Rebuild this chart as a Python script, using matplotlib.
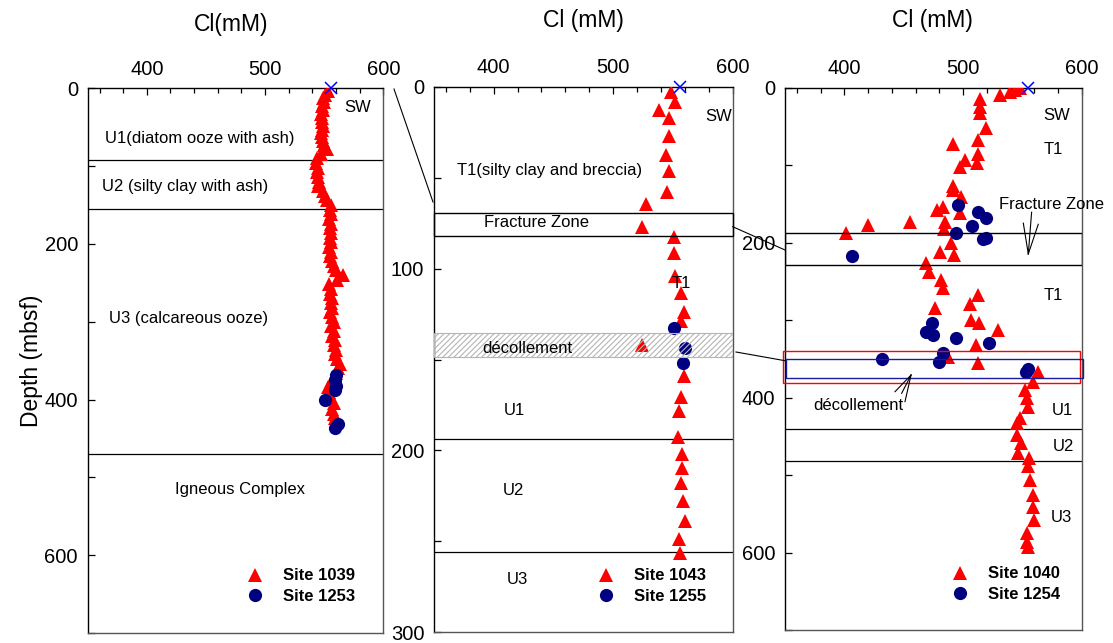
import matplotlib.pyplot as plt
from matplotlib.patches import Rectangle
from matplotlib.lines import Line2D
from matplotlib.ticker import MultipleLocator

plt.rcParams['font.family'] = ['Liberation Sans', 'DejaVu Sans']
plt.rcParams['hatch.linewidth'] = 0.8

# seawater reference value
sw_cl = [556]
sw_depth = [0]

# Site 1039 / 1253 (reference site)
site1039_depth = [4, 9, 13, 18, 23, 28, 33, 38, 43, 48, 53, 58, 63, 68, 73, 78,
                  84, 90, 96, 102, 108, 114, 120, 126, 132, 138, 144, 150, 156,
                  162, 168, 174, 180, 186, 192, 198, 204, 210, 216, 222, 228,
                  234, 240, 246, 252, 258, 264, 270, 276, 282, 288, 294, 300,
                  306, 312, 318, 324, 330, 336, 342, 348, 354, 360, 366, 372,
                  378, 384, 390, 398, 404, 412, 418, 424]
site1039_cl = [553, 551, 549, 550, 548, 549, 547, 548, 548, 549, 548, 547, 548,
               549, 550, 552, 547, 544, 543, 545, 544, 545, 546, 545, 549, 551,
               552, 556, 555, 556, 554, 556, 555, 556, 555, 556, 554, 556, 555,
               557, 558, 560, 566, 561, 554, 556, 555, 557, 556, 557, 555, 557,
               558, 556, 558, 557, 559, 558, 560, 559, 561, 563, 562, 560, 558,
               556, 553, 554, 556, 558, 557, 558, 559]
site1253_depth = [368, 375, 382, 388, 400, 432, 437]
site1253_cl = [560, 559, 560, 559, 551, 562, 559]

# Site 1043 / 1255 (toe of the prism)
site1043_depth = [2.6, 8, 12.7, 17, 27, 37.4, 46, 57.6, 64.6, 76.9, 82.4, 91.5,
                  104, 113.5, 124, 128.8, 142, 159, 170.4, 178.3, 192.4, 202,
                  209.8, 218, 227.8, 238.9, 248.8, 256.6]
site1043_cl = [548.6, 552, 538.7, 546.6, 547, 544, 547, 545, 527.4, 524.6,
               551.4, 551.4, 552, 556.5, 559.3, 557, 524.6, 559.3, 556.5, 555,
               554, 557.6, 557.6, 556.5, 558.5, 559.9, 555, 556]
site1255_depth = [132.8, 143.8, 151.7]
site1255_cl = [550.6, 559.9, 558.5]

# Site 1040 / 1254 (prism)
site1040_depth = [0.5, 2.6, 5.6, 9.9, 15.2, 24.7, 33.3, 52.7, 67.7, 73.3, 86.2,
                  93.5, 97.8, 103, 127, 132, 141, 154, 158, 162.4, 173, 173,
                  177.5, 182, 188, 201, 212, 216, 227, 238, 249, 259, 268, 279,
                  285, 300, 304, 313, 332, 347.3, 355, 366.6, 379.5, 390.3,
                  401, 411.8, 426.8, 433.3, 448.4, 459, 472, 478.5, 489, 506.5,
                  525.8, 541, 558, 575, 586, 592.5]
site1040_cl = [548, 543.8, 539.6, 531.2, 514.3, 514.3, 514.3, 519.3, 512.3,
               491.3, 512.9, 501.7, 511.5, 497.5, 491.9, 491.9, 498.3, 483,
               478, 497.5, 485, 455.6, 419.9, 484, 401.7, 489.5, 481, 492,
               469, 471, 481.6, 483, 512.9, 505.9, 476.6, 506.7, 513.7, 529.7,
               510.8, 487.6, 512.3, 563.4, 559.2, 552.2, 553.6, 555, 548,
               545.2, 545.8, 548.6, 546.6, 555.9, 555, 556.5, 559.2, 558.6,
               559.8, 553.6, 554.2, 555]
site1254_depth = [151.6, 160.2, 168, 178.7, 188, 195.8, 194.5, 217.3, 303.4,
                  315, 319.3, 323.7, 329.3, 343, 350.7, 353.7, 363.6, 366.6]
site1254_cl = [496, 512.9, 519.3, 507.3, 494.1, 516.5, 519.3, 406.3, 473.7,
               469, 474.6, 494.1, 522.2, 483.4, 431.4, 480, 555, 553]

W, H = 1113, 643
fig = plt.figure(figsize=(W / 100, H / 100), dpi=100)


def px_axes(x0, x1, y0, y1):
    return fig.add_axes([x0 / W, 1 - y1 / H, (x1 - x0) / W, (y1 - y0) / H])


ax1 = px_axes(87.7, 383.3, 88.3, 633)
ax2 = px_axes(434, 732.5, 87, 632)
ax3 = px_axes(785, 1081.7, 87.5, 630)

RED = '#ff0000'
NAVY = '#000080'
tri = dict(marker='^', ls='none', color=RED, ms=9.5, mew=0, zorder=3)
dot = dict(marker='o', ls='none', color=NAVY, ms=9.5, mew=0, zorder=3)


def style(ax, ymax, ymajor, yminor):
    ax.set_xlim(350, 600)
    ax.set_ylim(ymax, 0)
    ax.xaxis.tick_top()
    ax.xaxis.set_major_locator(MultipleLocator(100))
    ax.xaxis.set_minor_locator(MultipleLocator(20))
    ax.yaxis.set_major_locator(MultipleLocator(ymajor))
    ax.yaxis.set_minor_locator(MultipleLocator(yminor))
    ax.tick_params(which='both', direction='in', labelsize=14.5, pad=7,
                   top=True, bottom=False, left=True, right=False)
    ax.tick_params(which='major', length=5, width=0.9)
    ax.tick_params(which='minor', length=3.5, width=0.9)
    ax.tick_params(axis='y', which='minor', length=5)
    for s in ('right', 'bottom'):
        ax.spines[s].set_color('#555555')
    for s in ax.spines.values():
        s.set_linewidth(1.0)


def legend(ax, labels, x, y):
    h = [Line2D([], [], **tri), Line2D([], [], **dot)]
    ax.legend(h, labels, loc='upper left', bbox_to_anchor=(x, y),
              frameon=False, prop={'weight': 'bold', 'size': 12},
              handlelength=1, handletextpad=1.2, labelspacing=0.35,
              borderpad=0, borderaxespad=0)


def label(ax, x, y, s):
    ax.text(x, y, s, ha='center', va='center', fontsize=12, zorder=5)


# panel 1: Site 1039 / 1253
style(ax1, 700, 200, 100)
for d in [92.5, 154.5, 470.6]:
    ax1.axhline(d, color='black', lw=0.9)
ax1.plot(site1039_cl, site1039_depth, **tri)
ax1.plot(site1253_cl, site1253_depth, **dot)
ax1.plot(sw_cl, sw_depth, marker='x', ls='none', color='#0000ff', ms=8,
         mew=1.1, zorder=4, clip_on=False)
label(ax1, 578, 25, 'SW')
label(ax1, 445, 64, 'U1(diatom ooze with ash)')
label(ax1, 432.5, 126, 'U2 (silty clay with ash)')
label(ax1, 435, 296, 'U3 (calcareous ooze)')
label(ax1, 479, 516, 'Igneous Complex')
ax1.set_ylabel('Depth (mbsf)', fontsize=16.5, labelpad=1)
legend(ax1, ['Site 1039', 'Site 1253'], 0.538, 0.1186)

# panel 2: Site 1043 / 1255
style(ax2, 300, 100, 50)
for d in [194, 256]:
    ax2.axhline(d, color='black', lw=0.9)
ax2.plot(site1043_cl, site1043_depth, **tri)
ax2.plot(site1255_cl, site1255_depth, **dot)
ax2.plot(sw_cl, sw_depth, marker='x', ls='none', color='#0000ff', ms=8,
         mew=1.1, zorder=4, clip_on=False)
ax2.add_patch(Rectangle((350, 69.3), 250, 12.7, fill=False, ec='black',
                        lw=1.0, zorder=4, clip_on=False))
ax2.add_patch(Rectangle((350, 135.4), 250, 13.2, facecolor='none',
                        edgecolor='#b5b5b5', hatch='//////', lw=0.8,
                        zorder=4))
label(ax2, 588, 16, 'SW')
label(ax2, 447, 45.7, 'T1(silty clay and breccia)')
label(ax2, 435.6, 74.5, 'Fracture Zone')
label(ax2, 556.8, 108.4, 'T1')
label(ax2, 428, 143.8, 'décollement')
label(ax2, 417, 177.8, 'U1')
label(ax2, 416.7, 222, 'U2')
label(ax2, 420, 271, 'U3')
legend(ax2, ['Site 1043', 'Site 1255'], 0.5484, 0.1167)

# panel 3: Site 1040 / 1254
style(ax3, 700, 200, 100)
for d in [441, 481.5]:
    ax3.axhline(d, color='black', lw=0.9)
ax3.plot(site1040_cl, site1040_depth, **tri)
ax3.plot(site1254_cl, site1254_depth, **dot)
ax3.plot([555], sw_depth, marker='x', ls='none', color='#0000ff', ms=8,
         mew=1.1, zorder=4, clip_on=False)
ax3.add_patch(Rectangle((350, 188), 250, 41, fill=False, ec='black',
                        lw=1.0, zorder=4))
ax3.add_patch(Rectangle((348.6, 339.6), 249.9, 41.4, fill=False, ec=RED,
                        lw=1.0, zorder=4, clip_on=False))
ax3.add_patch(Rectangle((350.8, 350.3), 250.2, 24.9, fill=False, ec='#1a1aa0',
                        lw=1.0, zorder=4, clip_on=False))
label(ax3, 579, 35.5, 'SW')
label(ax3, 575.8, 80.6, 'T1')
label(ax3, 575.8, 269, 'T1')
label(ax3, 574.7, 151.6, 'Fracture Zone')
label(ax3, 411.8, 409.7, 'décollement')
label(ax3, 584, 417, 'U1')
label(ax3, 585, 463, 'U2')
label(ax3, 583, 555, 'U3')
for x0, y0 in [(557.8, 161), (550.8, 175), (563.4, 176.5)]:
    ax3.plot([x0, 555], [y0, 214.8], color='black', lw=0.8, zorder=5)
for x0, y0 in [(442.7, 392.5), (448.3, 394.6), (451.1, 405.4)]:
    ax3.plot([x0, 456.2], [y0, 371], color='black', lw=0.8, zorder=5)
legend(ax3, ['Site 1040', 'Site 1254'], 0.5618, 0.1172)

# titles
fig.text(231 / W, 1 - 25 / H, 'Cl(mM)', ha='center', va='center', fontsize=16.5)
fig.text(583 / W, 1 - 20 / H, 'Cl (mM)', ha='center', va='center', fontsize=16.5)
fig.text(932 / W, 1 - 20 / H, 'Cl (mM)', ha='center', va='center', fontsize=16.5)

# connectors between the zoomed depth ranges
for (xa, ya), (xb, yb) in [((394, 89), (433, 202)),
                           ((732.7, 226.7), (785, 250)),
                           ((736, 352), (785, 360.7))]:
    fig.add_artist(Line2D([xa / W, xb / W], [1 - ya / H, 1 - yb / H],
                          transform=fig.transFigure, color='black', lw=0.8))

fig.savefig('out.png', dpi=100)
